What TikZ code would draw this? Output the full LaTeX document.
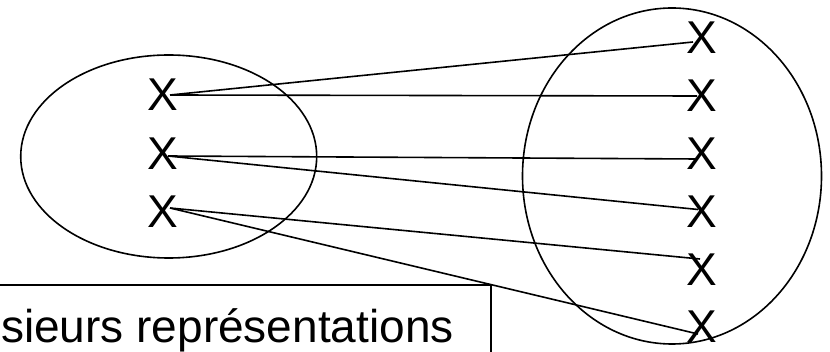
\documentclass[tikz,border=0pt]{standalone}
\usepackage{fontspec}
\setmainfont{Liberation Sans}
\begin{document}
\begin{tikzpicture}[x=1pt,y=-1pt,
  cross/.style={inner sep=0pt,font=\fontsize{46}{55}\selectfont},
  link/.style={line width=1.6pt},
  oval/.style={line width=1.6pt}]
\useasboundingbox (0,0) rectangle (830,352);
\clip (0,0) rectangle (830,352);
\draw[oval] (168.7,156.5) ellipse [x radius=148, y radius=101.5];
\draw[oval] (672,176) ellipse [x radius=149.5, y radius=168];
\node[cross] (l1) at (162.5,95) {X};
\node[cross] (l2) at (162.5,153.5) {X};
\node[cross] (l3) at (162.5,211.5) {X};
\node[cross] (r1) at (702,38) {X};
\node[cross] (r2) at (702,96) {X};
\node[cross] (r3) at (702,154) {X};
\node[cross] (r4) at (702,212) {X};
\node[cross] (r5) at (702,270) {X};
\node[cross] (r6) at (702,327) {X};
\draw[link] ([xshift=7.5pt]l1.center) -- ([xshift=-9pt,yshift=-4pt]r1.center);
\draw[link] ([xshift=7.5pt]l1.center) -- ([xshift=-5pt]r2.center);
\draw[link] ([xshift=5.5pt,yshift=-2.5pt]l2.center) -- ([xshift=-5pt,yshift=-5pt]r3.center);
\draw[link] ([xshift=5.5pt,yshift=-2.5pt]l2.center) -- ([xshift=-4pt,yshift=2.5pt]r4.center);
\draw[link] ([xshift=7.5pt,yshift=3.5pt]l3.center) -- ([xshift=-2pt,yshift=11pt]r5.center);
\draw[link] ([xshift=7.5pt,yshift=3.5pt]l3.center) -- ([xshift=-4pt,yshift=-7pt]r6.center);
\draw[line width=1.6pt] (-20,285) rectangle (491,380);
\node[anchor=base west,inner sep=0pt,font=\fontsize{46}{55}\selectfont] (txt) at (1,343) {sieurs représentations};
\end{tikzpicture}
\end{document}
